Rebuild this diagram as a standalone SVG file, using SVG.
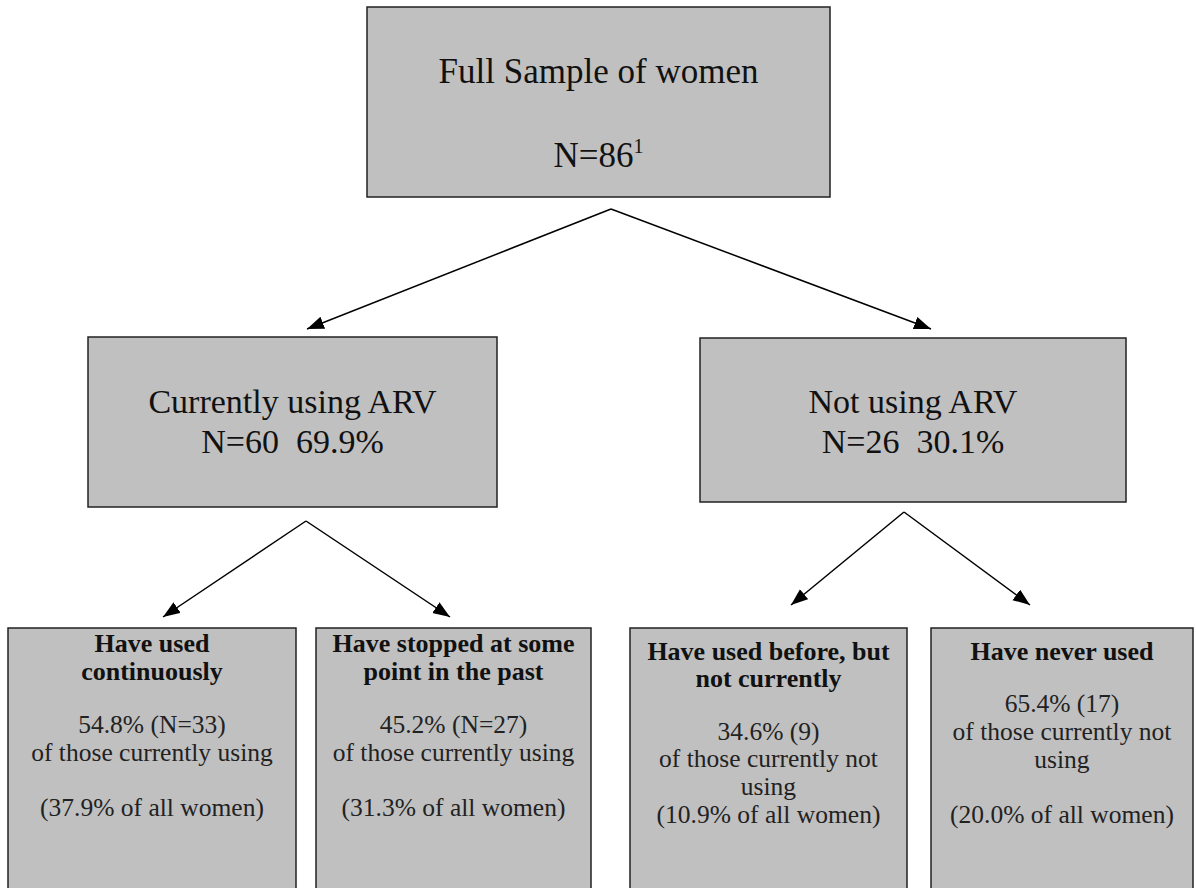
<svg xmlns="http://www.w3.org/2000/svg" width="1196" height="888" viewBox="0 0 1196 888">
<style>
.box{fill:#c0c0c0;stroke:#222;stroke-width:1.5}
.t{font-family:"Liberation Serif","Times New Roman",serif;fill:#111;text-anchor:middle}
.big{font-size:35px}
.mid{font-size:34px}
.b{font-size:26px;font-weight:bold}
.r{font-size:25.5px;fill:#222}
.conn line{stroke:#000;stroke-width:1.5;marker-end:url(#ah)}
</style>
<defs>
<marker id="ah" markerUnits="userSpaceOnUse" markerWidth="18" markerHeight="14" refX="17" refY="6.5" orient="auto">
<path d="M0,0 L17,6.5 L0,13 z" fill="#000"/>
</marker>
</defs>
<rect width="1196" height="888" fill="#fff"/>
<g id="connectors" class="conn">
<line x1="611" y1="209" x2="307" y2="329"/>
<line x1="611" y1="209" x2="931" y2="329"/>
<line x1="306" y1="521" x2="163" y2="617"/>
<line x1="306" y1="521" x2="450" y2="617"/>
<line x1="904" y1="512" x2="791" y2="605"/>
<line x1="904" y1="512" x2="1030" y2="605"/>
</g>
<g id="full-sample">
<rect class="box" x="367" y="7" width="463" height="190"/>
<text class="t big" x="598.5" y="83">Full Sample of women</text>
<text class="t big" x="598.5" y="167">N=86<tspan font-size="20" dy="-14">1</tspan></text>
</g>
<g id="currently-using">
<rect class="box" x="88" y="337" width="409" height="170"/>
<text class="t mid" x="292.5" y="413">Currently using ARV</text>
<text class="t mid" x="292.5" y="453" xml:space="preserve">N=60  69.9%</text>
</g>
<g id="not-using">
<rect class="box" x="700" y="338" width="426" height="164"/>
<text class="t mid" x="913" y="413">Not using ARV</text>
<text class="t mid" x="913" y="453" xml:space="preserve">N=26  30.1%</text>
</g>
<g id="used-continuously">
<rect class="box" x="8" y="628" width="288" height="272"/>
<text class="t b" x="152" y="652">Have used</text>
<text class="t b" x="152" y="680">continuously</text>
<text class="t r" x="152" y="733">54.8% (N=33)</text>
<text class="t r" x="152" y="761">of those currently using</text>
<text class="t r" x="152" y="816">(37.9% of all women)</text>
</g>
<g id="stopped-past">
<rect class="box" x="316" y="628" width="275" height="272"/>
<text class="t b" x="453.5" y="652">Have stopped at some</text>
<text class="t b" x="453.5" y="680">point in the past</text>
<text class="t r" x="453.5" y="733">45.2% (N=27)</text>
<text class="t r" x="453.5" y="761">of those currently using</text>
<text class="t r" x="453.5" y="816">(31.3% of all women)</text>
</g>
<g id="used-before">
<rect class="box" x="630" y="628" width="277" height="272"/>
<text class="t b" x="768.5" y="660">Have used before, but</text>
<text class="t b" x="768.5" y="687">not currently</text>
<text class="t r" x="768.5" y="740">34.6% (9)</text>
<text class="t r" x="768.5" y="767">of those currently not</text>
<text class="t r" x="768.5" y="795">using</text>
<text class="t r" x="768.5" y="823">(10.9% of all women)</text>
</g>
<g id="never-used">
<rect class="box" x="931" y="628" width="262" height="272"/>
<text class="t b" x="1062" y="660">Have never used</text>
<text class="t r" x="1062" y="712">65.4% (17)</text>
<text class="t r" x="1062" y="740">of those currently not</text>
<text class="t r" x="1062" y="768">using</text>
<text class="t r" x="1062" y="823">(20.0% of all women)</text>
</g>
</svg>
